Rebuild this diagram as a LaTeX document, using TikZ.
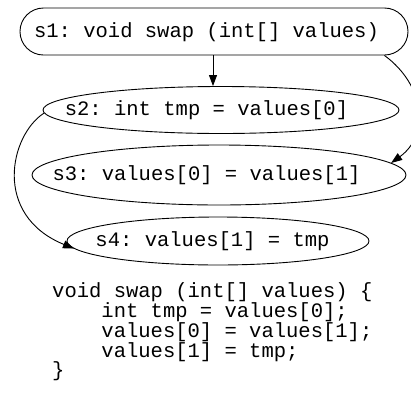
\documentclass[tikz,border=0pt]{standalone}
\usepackage{fontspec}
\setmonofont{Liberation Mono}
\usetikzlibrary{shapes.geometric,arrows.meta}
\begin{document}
\begin{tikzpicture}[x=1bp,y=-1bp,
  lbl/.style={font=\ttfamily\fontsize{20.6}{20}\selectfont, inner sep=0pt},
  codeline/.style={font=\ttfamily\fontsize{20.6}{20}\selectfont, inner sep=0pt, anchor=base west},
  ell/.style={draw, ellipse, inner sep=0pt, line width=0.9bp},
  rbox/.style={draw, rectangle, rounded corners=23.5bp, inner sep=0pt, line width=0.9bp, minimum width=388bp, minimum height=47bp},
  edge/.style={line width=0.9bp, -{Triangle[length=11bp,width=8bp]}}]
\useasboundingbox (0,0) rectangle (411,394);
\node[rbox] (s1) at (214,31.5) {};
\node[lbl] (t1) at (206.5,32) {s1: void swap (int[] values)};
\node[ell, minimum width=356bp, minimum height=47bp] (s2) at (221,110) {};
\node[lbl] (t2) at (206.5,110) {s2: int tmp = values[0]};
\node[ell, minimum width=374bp, minimum height=60bp] (s3) at (219,175) {};
\node[lbl] (t3) at (206.5,175) {s3: values[0] = values[1]};
\node[ell, minimum width=302bp, minimum height=48bp] (s4) at (218,241) {};
\node[lbl] (t4) at (212.5,241) {s4: values[1] = tmp};
\draw[edge] (s1.south -| 213,0) -- (s2.north -| 213,0);
\draw[edge] (s1.-8) .. controls (425,85) and (430,135) .. (s3.4);
\draw[edge] (s2.181) .. controls (10,135) and (-8,215) .. (s4.183);
\node[codeline] (c1) at (52,297) {void swap (int[] values) \{};
\node[codeline] (c2) at (52,317) {\hspace*{2.4em}int tmp = values[0];};
\node[codeline] (c3) at (52,337) {\hspace*{2.4em}values[0] = values[1];};
\node[codeline] (c4) at (52,357) {\hspace*{2.4em}values[1] = tmp;};
\node[codeline] (c5) at (52,376) {\}};
\end{tikzpicture}
\end{document}
